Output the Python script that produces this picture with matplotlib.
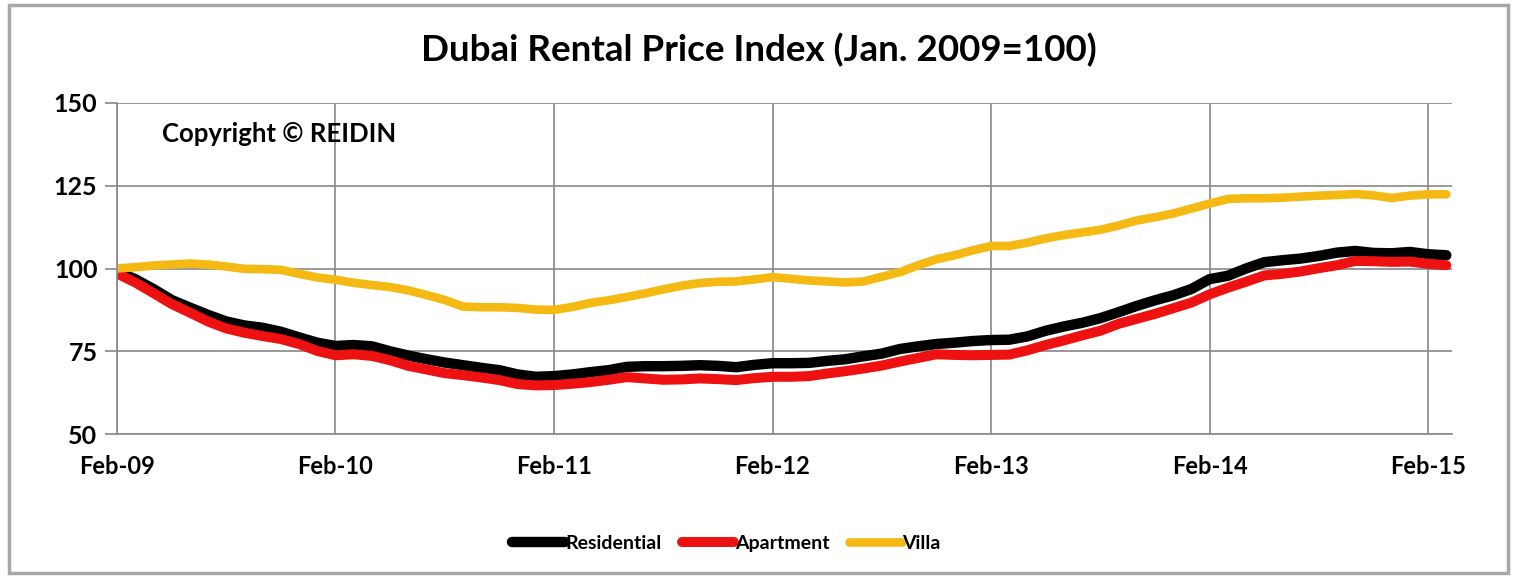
import matplotlib
matplotlib.use("Agg")
import matplotlib.pyplot as plt
from matplotlib.patches import Rectangle

plt.rcParams['font.family'] = ['Lato', 'DejaVu Sans']

# monthly index values, Feb-09 .. Mar-15
residential = [99.0, 96.8, 93.8, 90.5, 88.2, 86.0, 84.0, 82.8, 82.1, 80.9, 79.2, 77.6,
               76.6, 76.9, 76.5, 75.0, 73.7, 72.6, 71.6, 70.8, 70.0, 69.3, 68.0, 67.3,
               67.5, 68.0, 68.7, 69.3, 70.3, 70.5, 70.5, 70.6, 70.8, 70.6, 70.2, 70.9,
               71.4, 71.4, 71.5, 72.1, 72.6, 73.5, 74.3, 75.7, 76.5, 77.2, 77.6, 78.1,
               78.4, 78.5, 79.5, 81.2, 82.5, 83.6, 85.0, 86.8, 88.7, 90.4, 91.9, 93.8,
               96.8, 97.8, 100.0, 101.9, 102.5, 103.0, 103.8, 104.8, 105.3, 104.7, 104.6, 105.0,
               104.3, 104.0]
apartment = [98.5, 95.8, 92.6, 89.3, 86.7, 84.0, 81.9, 80.6, 79.6, 78.7, 77.2, 75.1,
             73.8, 74.1, 73.6, 72.3, 70.6, 69.5, 68.4, 67.8, 67.1, 66.3, 65.1, 64.7,
             64.8, 65.2, 65.7, 66.4, 67.2, 66.8, 66.4, 66.5, 66.8, 66.6, 66.3, 66.9,
             67.3, 67.3, 67.5, 68.3, 69.0, 69.8, 70.7, 71.9, 73.0, 74.1, 73.9, 73.8,
             73.9, 74.0, 75.3, 76.9, 78.3, 79.8, 81.2, 83.3, 84.8, 86.3, 88.0, 89.7,
             92.2, 94.2, 96.0, 97.9, 98.4, 99.1, 100.1, 101.0, 102.3, 102.2, 102.0, 102.1,
             101.4, 101.0]
villa = [100.0, 100.4, 100.9, 101.2, 101.5, 101.2, 100.6, 99.9, 99.8, 99.6, 98.4, 97.3,
         96.6, 95.7, 95.0, 94.4, 93.4, 92.0, 90.5, 88.5, 88.3, 88.3, 88.1, 87.6,
         87.5, 88.4, 89.6, 90.4, 91.4, 92.5, 93.7, 94.8, 95.6, 96.0, 96.1, 96.7,
         97.4, 96.9, 96.4, 96.1, 95.8, 96.1, 97.5, 98.9, 101.0, 102.8, 104.0, 105.5,
         106.8, 106.8, 107.8, 109.1, 110.1, 110.9, 111.7, 113.0, 114.5, 115.5, 116.6, 118.1,
         119.6, 121.0, 121.2, 121.2, 121.4, 121.7, 122.0, 122.2, 122.5, 122.1, 121.3, 122.0,
         122.4, 122.4]
months = list(range(len(residential)))
tick_labels = ['Feb-09', 'Feb-10', 'Feb-11', 'Feb-12', 'Feb-13', 'Feb-14', 'Feb-15']
tick_pos = [12 * i for i in range(len(tick_labels))]
y_ticks = [50, 75, 100, 125, 150]

fig = plt.figure(figsize=(15.17, 5.78), dpi=100)
ax = fig.add_axes([0.0771, 0.249, 0.8799, 0.5729])

ax.plot(months, residential, color='#000000', lw=7.5, label='Residential', solid_capstyle='round')
ax.plot(months, apartment, color='#ee1111', lw=7.2, label='Apartment', solid_capstyle='round')
ax.plot(months, villa, color='#f5b914', lw=6.2, label='Villa', solid_capstyle='round')

ax.set_xlim(0, 73.3)
ax.set_ylim(50, 150)
ax.set_xticks(tick_pos)
ax.set_xticklabels(tick_labels, fontsize=17, fontweight='bold')
ax.set_yticks(y_ticks)
ax.set_yticklabels([str(v) for v in y_ticks], fontsize=18, fontweight='bold')
ax.tick_params(axis='x', length=0, pad=15)
ax.tick_params(axis='y', length=9, width=1.2, color='#888888', pad=5)
ax.grid(True, color='#888888', lw=1.2)
ax.set_axisbelow(True)
for s in ['top', 'right']:
    ax.spines[s].set_visible(False)
for s in ['left', 'bottom']:
    ax.spines[s].set_color('#888888')
    ax.spines[s].set_linewidth(1.2)

ax.text(0.034, 0.905, 'Copyright © REIDIN', transform=ax.transAxes,
        fontsize=18.5, fontweight='bold', ha='left', va='center')

fig.text(0.5, 0.913, 'Dubai Rental Price Index (Jan. 2009=100)',
         fontsize=26.5, fontweight='bold', ha='center', va='center')

fig.legend(loc='center', bbox_to_anchor=(0.479, 0.06), ncol=3, frameon=False,
           handlelength=2.7, handletextpad=0.05, columnspacing=1.0,
           prop={'size': 14, 'weight': 'bold'})

fig.patches.append(Rectangle((0.006, 0.008), 0.988, 0.984, transform=fig.transFigure,
                             fill=False, edgecolor='#a8a8a8', lw=2.5))

fig.savefig('out.png', dpi=100)
